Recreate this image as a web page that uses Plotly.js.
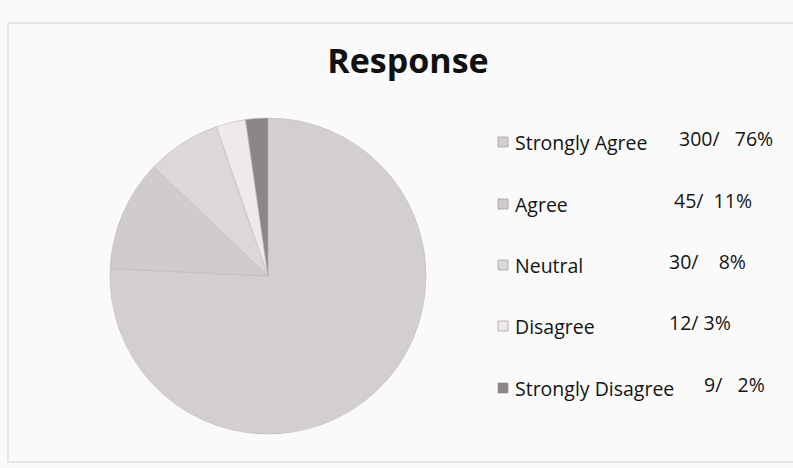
<!DOCTYPE html>
<html><head><meta charset="utf-8">
<script src="https://cdn.plot.ly/plotly-3.0.1.min.js"></script>
<style>html,body{margin:0;padding:0;background:#fbfafa}</style>
</head><body><div id="chart" style="width:793px;height:468px"></div>
<script>
// ---- data ----
const categories = ["Strongly Agree", "Agree", "Neutral", "Disagree", "Strongly Disagree"];
const counts = [300, 45, 30, 12, 9];
const chartTitle = "Response";

// ---- styles / layout helpers ----
const colors = ["#d3cecf", "#d0cbcc", "#dcd8d9", "#eeeaeb", "#8b8687"];
const W = 793, H = 468;
const rowY = [142, 204, 265, 326, 388];       // px, label centres
const valueX = [677, 672, 667, 667, 702];     // px, value text left edge
const valueGap = ["&nbsp;&nbsp;&nbsp;", "&nbsp;&nbsp;", "&nbsp;&nbsp;&nbsp;&nbsp;", "&nbsp;", "&nbsp;&nbsp;&nbsp;"];
const px = x => x / W, py = y => 1 - y / H;

const total = counts.reduce((a, b) => a + b, 0);
const pcts = counts.map(c => Math.round(c / total * 100));

const trace = {
  type: "pie",
  labels: categories,
  values: counts,
  sort: false,
  direction: "clockwise",
  rotation: 0,
  textinfo: "none",
  hoverinfo: "label+value+percent",
  marker: { colors: colors, line: { color: "#bcb7b8", width: 0.6 } },
  domain: { x: [px(110), px(426)], y: [py(434), py(118)] },
  showlegend: false
};

const font = "'Open Sans', Lato, 'DejaVu Sans', sans-serif";
const annotations = [];
const shapes = [{
  type: "rect", xref: "paper", yref: "paper",
  x0: px(8), x1: 1.02, y0: py(462), y1: py(23),
  line: { color: "#d6d1d2", width: 1 }, fillcolor: "rgba(0,0,0,0)"
}];

categories.forEach((cat, i) => {
  shapes.push({
    type: "rect", xref: "paper", yref: "paper",
    x0: px(498), x1: px(508), y0: py(rowY[i] + 5), y1: py(rowY[i] - 5),
    fillcolor: colors[i], line: { color: "#8f8a8b", width: 0.6 }
  });
  annotations.push({
    xref: "paper", yref: "paper", x: px(513), y: py(rowY[i]),
    xanchor: "left", yanchor: "middle", showarrow: false,
    text: cat, font: { family: font, size: 19.5, color: "#141414" }
  });
  annotations.push({
    xref: "paper", yref: "paper", x: px(valueX[i]), y: py(rowY[i] - 4),
    xanchor: "left", yanchor: "middle", showarrow: false,
    text: counts[i] + "/" + valueGap[i] + pcts[i] + "%",
    font: { family: font, size: 19.5, color: "#141414" }
  });
});

const layout = {
  width: W, height: H,
  margin: { l: 0, r: 0, t: 0, b: 0 },
  paper_bgcolor: "#fbfafa",
  plot_bgcolor: "#fbfafa",
  title: {
    text: "<b>" + chartTitle + "</b>",
    x: px(408), xanchor: "center",
    y: py(61), yanchor: "middle",
    font: { family: font, size: 34, color: "#111111" }
  },
  annotations: annotations,
  shapes: shapes
};

Plotly.newPlot("chart", [trace], layout, { displayModeBar: false, staticPlot: true });
</script>
</body></html>
